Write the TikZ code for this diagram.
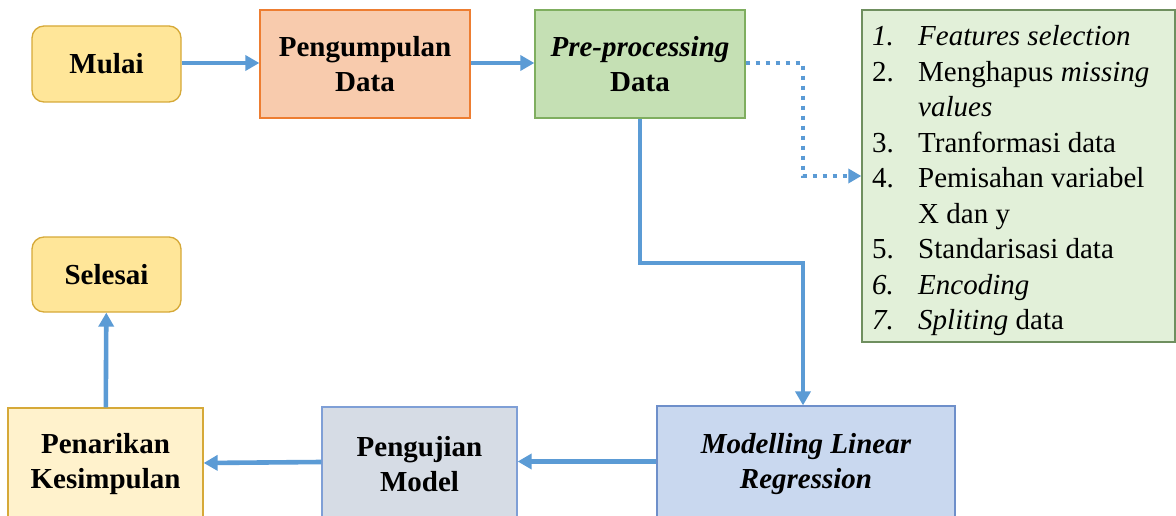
\documentclass[tikz,border=0pt]{standalone}
\usepackage{fontspec}
\setmainfont{Liberation Serif}
\usetikzlibrary{arrows.meta}

\definecolor{flowblue}{HTML}{5B9BD5}
\definecolor{startfill}{HTML}{FFE699}
\definecolor{startline}{HTML}{D6A938}
\definecolor{collectfill}{HTML}{F8CBAD}
\definecolor{collectline}{HTML}{ED7D31}
\definecolor{prepfill}{HTML}{C5E0B4}
\definecolor{prepline}{HTML}{7FAE5F}
\definecolor{listfill}{HTML}{E2F0D9}
\definecolor{listline}{HTML}{6F8F5F}
\definecolor{concfill}{HTML}{FFF2CC}
\definecolor{concline}{HTML}{D6A938}
\definecolor{testfill}{HTML}{D6DCE5}
\definecolor{testline}{HTML}{7F9FD6}
\definecolor{modelfill}{HTML}{C9D8EF}
\definecolor{modelline}{HTML}{6E8FCA}

\tikzset{
  labeltext/.style={font=\fontsize{29}{35}\selectfont\bfseries, align=center, text=black},
  terminal/.style={labeltext, draw=startline, fill=startfill, line width=1.3pt,
    rounded corners=12pt, minimum width=149pt, minimum height=76pt, inner sep=0pt},
  stepbox/.style={labeltext, line width=1.3pt, minimum height=108pt, inner sep=0pt},
  flow/.style={draw=flowblue, line width=4.6pt,
    -{Triangle[length=14pt,width=15pt]}},
  dottedflow/.style={draw=flowblue, line width=4pt, dash pattern=on 4.5pt off 5.5pt,
    -{Triangle[length=13pt,width=14pt]}},
}

\begin{document}
\begin{tikzpicture}[x=1pt,y=-1pt]
\clip (0,0) rectangle (1176,516);
\fill[white] (0,0) rectangle (1176,516);

% top row
\node[terminal] (mulai) at (106.5,64) {Mulai};
\node[stepbox, draw=collectline, fill=collectfill, minimum width=210pt]
  (kumpul) at (365,64) {Pengumpulan\\Data};
\node[stepbox, draw=prepline, fill=prepfill, minimum width=210pt]
  (prep) at (640,64) {\textit{Pre-processing}\\Data};

% list of pre-processing steps
\node[draw=listline, fill=listfill, line width=1.3pt, minimum width=313pt,
  minimum height=332pt, inner sep=0pt] (list) at (1018.5,176) {};
\node[anchor=base west, inner sep=0pt, font=\fontsize{29}{35.5}\selectfont]
  (items) at (872,46) {%
  \begin{tabular}[t]{@{}p{46pt}@{}l@{}}
  \textit{1.} & \textit{Features selection}\\
  2. & Menghapus \textit{missing}\\
     & \textit{values}\\
  3. & Tranformasi data\\
  4. & Pemisahan variabel\\
     & X dan y\\
  5. & Standarisasi data\\
  \textit{6.} & \textit{Encoding}\\
  \textit{7.} & \textit{Spliting} data
  \end{tabular}};

% left column and bottom row
\node[terminal, minimum height=75pt] (selesai) at (106.5,274.5) {Selesai};
\node[stepbox, draw=concline, fill=concfill, minimum width=195pt, minimum height=112pt]
  (tarik) at (105.5,464) {Penarikan\\Kesimpulan};
\node[stepbox, draw=testline, fill=testfill, minimum width=195pt, minimum height=114pt]
  (uji) at (419.5,464) {Pengujian\\Model};
\node[stepbox, draw=modelline, fill=modelfill, minimum width=298pt, minimum height=116pt]
  (model) at (806,464) {\textit{Modelling Linear}\\\textit{Regression}};

% bend points
\coordinate (dotbend) at (803,176);
\coordinate (midturn) at (720,263);

% connectors
\draw[flow] ([yshift=1pt]mulai.east) -- ([yshift=1pt]kumpul.west);
\draw[flow] ([yshift=1pt]kumpul.east) -- ([yshift=1pt]prep.west);
\draw[dottedflow] ([yshift=1pt]prep.east) -| (dotbend) -- (dotbend -| list.west);
\draw[flow] (prep.south) |- (midturn) -| ([xshift=-3pt]model.north);
\draw[flow] ([yshift=2.5pt]model.west) -- ([yshift=2.5pt]uji.east);
\draw[flow] ([yshift=2pt]uji.west) -- ([yshift=1pt]tarik.east);
\draw[flow] (tarik) -- (selesai);
\end{tikzpicture}
\end{document}
